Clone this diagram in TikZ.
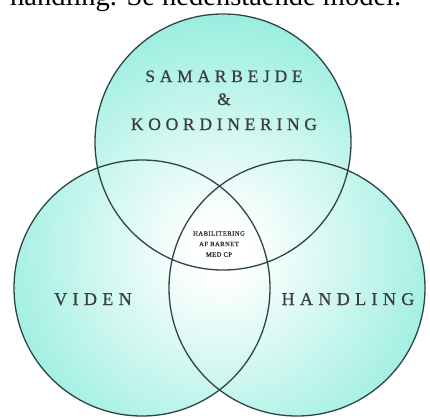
\documentclass[tikz,border=0pt]{standalone}
\usepackage{fontspec}
\setmainfont{Liberation Serif}
\definecolor{aq}{RGB}{116,232,212}
\definecolor{ring}{RGB}{45,68,68}
\definecolor{lbl}{RGB}{62,62,62}
\pgfdeclareradialshading{venn}{\pgfpoint{0bp}{0bp}}{color(0bp)=(white); color(3bp)=(white); color(33bp)=(aq); color(50bp)=(aq)}
\tikzset{
  ring/.style={draw=ring, line width=1.3pt},
  biglbl/.style={text=lbl, font=\fontsize{18}{20}\selectfont\addfontfeature{LetterSpace=30,FakeBold=0.8}, inner sep=0pt, anchor=base},
  toplbl/.style={text=lbl, font=\fontsize{17.5}{20}\selectfont\addfontfeature{LetterSpace=27,FakeBold=0.8}, inner sep=0pt, anchor=base},
  midlbl/.style={text=black!85, font=\fontsize{6.5}{10.5}\selectfont\addfontfeature{LetterSpace=8,FakeBold=0.8}, inner sep=0pt, align=center},
  cut/.style={text=black, font=\fontsize{28.5}{30}\selectfont, inner sep=0pt, anchor=base west}
}
\begin{document}
\begin{tikzpicture}[x=1pt, y=-1pt]
\useasboundingbox (0,0) rectangle (430,418);
\clip (0,0) rectangle (430,418);
\coordinate (ct) at (223,142);
\coordinate (cl) at (142,288);
\coordinate (cr) at (297,288);
\node[cut] (intro) at (10,5) {handling. Se nedenstående model.};
\begin{scope}
  \clip (ct) circle (128) (cl) circle (128) (cr) circle (128);
  \shade[shading=venn] (220,250) circle (235);
\end{scope}
\draw[ring] (ct) circle (128);
\draw[ring] (cl) circle (128);
\draw[ring] (cr) circle (128);
\node[toplbl] (samarb) at (224,82) {SAMARBEJDE};
\node[toplbl] (amp) at (224,105) {\&};
\node[toplbl] (koord) at (224,130) {KOORDINERING};
\node[biglbl] (viden) at (93,305) {VIDEN};
\node[biglbl] (handl) at (348,305) {HANDLING};
\node[midlbl] (habil) at (219,244) {HABILITERING\\AF BARNET\\MED CP};
\end{tikzpicture}
\end{document}
